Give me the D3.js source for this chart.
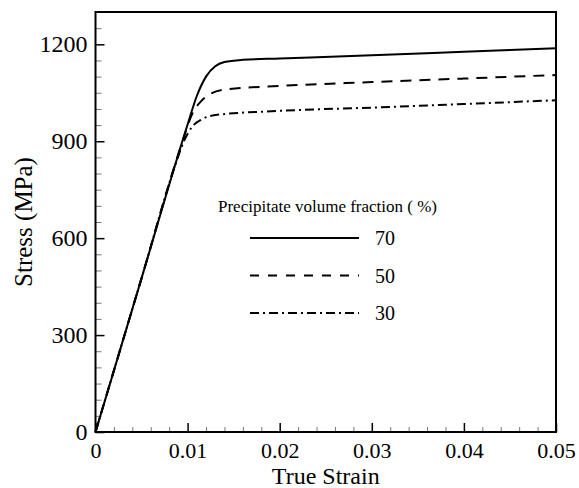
<!DOCTYPE html>
<html>
<head>
<meta charset="utf-8">
<script src="https://cdn.jsdelivr.net/npm/d3@7"></script>
<style>
  body { margin: 0; background: #fff; }
  svg text { font-family: "Times New Roman", "Liberation Serif", "DejaVu Serif", serif; fill: #000; }
</style>
</head>
<body>
<script>
// data
const strain70 = [0, 0.005, 0.0100, 0.0110, 0.0120, 0.0130, 0.0140, 0.016, 0.02, 0.03, 0.04, 0.05];
const stress70 = [0, 476, 952, 1040, 1100, 1132, 1145, 1152, 1156, 1166, 1177, 1188];
const strain50 = [0, 0.005, 0.0095, 0.0105, 0.0115, 0.0125, 0.0140, 0.02, 0.03, 0.04, 0.05];
const stress50 = [0, 476, 904, 985, 1025, 1047, 1060, 1071, 1083, 1094, 1105];
const strain30 = [0, 0.005, 0.0088, 0.0096, 0.0105, 0.0115, 0.0130, 0.02, 0.03, 0.04, 0.05];
const stress30 = [0, 476, 838, 900, 945, 967, 981, 994, 1004, 1015, 1027];
const seriesNames = ["70", "50", "30"];
const xTicks = [0, 0.01, 0.02, 0.03, 0.04, 0.05];
const yTicks = [0, 300, 600, 900, 1200];

const W = 579, H = 488;
const margin = {left: 95.5, right: 23, top: 12, bottom: 56};

const svg = d3.select("body").append("svg")
    .attr("width", W).attr("height", H);

const x = d3.scaleLinear().domain([0, 0.05]).range([margin.left, W - margin.right]);
const y = d3.scaleLinear().domain([0, 1300]).range([H - margin.bottom, margin.top]);

const series = [
  {name: seriesNames[0], xs: strain70, ys: stress70, dash: null, legDash: null},
  {name: seriesNames[1], xs: strain50, ys: stress50, dash: "11,8", legDash: "9,9"},
  {name: seriesNames[2], xs: strain30, ys: stress30, dash: "9,4,2,4", legDash: "9,4,2,4"}
];

const line = d3.line()
    .x(d => x(d[0])).y(d => y(d[1]))
    .curve(d3.curveMonotoneX);

// minor ticks
const xMinor = d3.range(0, 0.0501, 0.002).filter(v => Math.abs(v * 100 - Math.round(v * 100)) > 1e-6);
const yMinor = d3.range(0, 1301, 50).filter(v => v % 300 !== 0);

svg.append("g")
    .attr("transform", `translate(0,${y(0)})`)
    .call(d3.axisBottom(x).tickValues(xMinor).tickSize(-5).tickFormat(""))
    .call(g => g.select(".domain").remove())
    .call(g => g.selectAll("line").attr("stroke", "#777"));

svg.append("g")
    .attr("transform", `translate(${x(0)},0)`)
    .call(d3.axisLeft(y).tickValues(yMinor).tickSize(-6).tickFormat(""))
    .call(g => g.select(".domain").remove())
    .call(g => g.selectAll("line").attr("stroke", "#777"));

// major ticks
const xAxis = svg.append("g")
    .attr("transform", `translate(0,${y(0)})`)
    .call(d3.axisBottom(x).tickValues(xTicks).tickSize(-9).tickPadding(10)
        .tickFormat(d => d === 0 ? "0" : d3.format(".2f")(d)));
xAxis.select(".domain").remove();
xAxis.selectAll("line").attr("stroke", "#000").attr("stroke-width", 1.5);
xAxis.selectAll("text").attr("font-size", 22);

const yAxis = svg.append("g")
    .attr("transform", `translate(${x(0)},0)`)
    .call(d3.axisLeft(y).tickValues(yTicks).tickSize(-9).tickPadding(8).tickFormat(d3.format("d")));
yAxis.select(".domain").remove();
yAxis.selectAll("line").attr("stroke", "#000").attr("stroke-width", 1.5);
yAxis.selectAll("text").attr("font-size", 24);

// frame
svg.append("rect")
    .attr("x", x(0)).attr("y", y(1300))
    .attr("width", x(0.05) - x(0)).attr("height", y(0) - y(1300))
    .attr("fill", "none").attr("stroke", "#000").attr("stroke-width", 2);

// curves
svg.append("g").selectAll("path")
  .data(series)
  .join("path")
    .attr("d", s => line(s.xs.map((v, i) => [v, s.ys[i]])))
    .attr("fill", "none")
    .attr("stroke", "#000")
    .attr("stroke-width", 2)
    .attr("stroke-dasharray", s => s.dash);

// axis titles
svg.append("text")
    .attr("x", (x(0) + x(0.05)) / 2).attr("y", 484)
    .attr("text-anchor", "middle").attr("font-size", 24)
    .text("True Strain");

svg.append("text")
    .attr("transform", `translate(32,${(y(0) + y(1300)) / 2}) rotate(-90)`)
    .attr("text-anchor", "middle").attr("font-size", 25)
    .text("Stress (MPa)");

// legend
const legend = svg.append("g");
legend.append("text")
    .attr("x", 218).attr("y", 212)
    .attr("font-size", 17)
    .text("Precipitate volume fraction ( %)");

const leg = legend.selectAll("g.item")
  .data(series)
  .join("g")
    .attr("class", "item")
    .attr("transform", (d, i) => `translate(0,${238 + i * 37.5})`);
leg.append("line")
    .attr("x1", 250).attr("x2", 359)
    .attr("stroke", "#000").attr("stroke-width", 2)
    .attr("stroke-dasharray", d => d.legDash);
leg.append("text")
    .attr("x", 375).attr("y", 7)
    .attr("font-size", 20)
    .text(d => d.name);
</script>
</body>
</html>
